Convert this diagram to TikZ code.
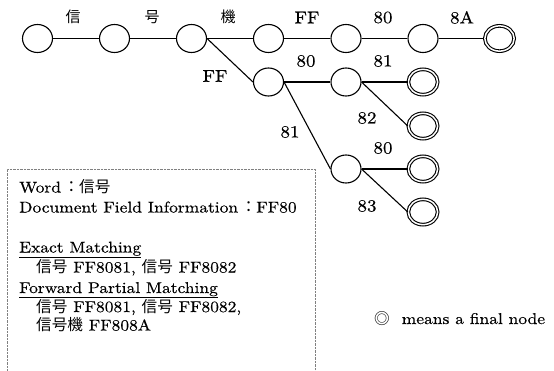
\documentclass[tikz,border=0pt]{standalone}
\usepackage{fontspec}
\setmainfont{lmroman10-regular.otf}[FakeStretch=1.12,FakeBold=0.4]
\newfontfamily\cjk{Noto Sans CJK JP}
\usetikzlibrary{shapes.geometric}
\tikzset{
  st/.style={ellipse,draw,line width=1.1pt,minimum width=30pt,minimum height=28pt,inner sep=0pt},
  fin/.style={ellipse,draw,line width=1.1pt,double,double distance=1.5pt,minimum width=29.3pt,minimum height=25.3pt,inner sep=0pt},
  edge/.style={line width=1.1pt},
  lab/.style={inner sep=0pt,font=\fontsize{17}{20}\selectfont},
  txt/.style={inner sep=0pt,anchor=base west,font=\fontsize{15.6}{18}\selectfont},
}
\begin{document}
\begin{tikzpicture}[x=1pt,y=-1pt]
\useasboundingbox (0,0) rectangle (554,370);
% states
\node[st] (n1) at (37.5,38.5) {};
\node[st] (n2) at (114.5,38.5) {};
\node[st] (n3) at (191.5,38.5) {};
\node[st] (n4) at (268.5,38.5) {};
\node[st] (n5) at (346,38.5) {};
\node[st] (n6) at (423,38.5) {};
\node[fin] (f1) at (499.5,38.5) {};
\node[st] (m1) at (268.5,82) {};
\node[st] (m2) at (346,82) {};
\node[fin] (f2) at (423,82) {};
\node[fin] (f3) at (423,126) {};
\node[st] (m3) at (346,169) {};
\node[fin] (f4) at (423,169) {};
\node[fin] (f5) at (423,212) {};
% edges
\draw[edge] (n1) -- (n2);
\draw[edge] (n2) -- (n3);
\draw[edge] (n3) -- (n4);
\draw[edge] (n4) -- (n5);
\draw[edge] (n5) -- (n6);
\draw[edge] (n6) -- (f1);
\draw[edge] (n3.east) -- (m1.west);
\draw[edge] (m1) -- (m2);
\draw[edge] (m2) -- (f2);
\draw[edge] (m2.east) -- (f3.west);
\draw[edge] (m1.east) -- (m3.west);
\draw[edge] (m3) -- (f4);
\draw[edge] (m3.east) -- (f5.west);
% labels
\node[lab] (l1) at (73,17) {\cjk\fontsize{15}{18}\selectfont 信};
\node[lab] (l2) at (152,17) {\cjk\fontsize{15}{18}\selectfont 号};
\node[lab] (l3) at (228,17) {\cjk\fontsize{15}{18}\selectfont 機};
\node[lab] (l4) at (307,17.5) {FF};
\node[lab] (l5) at (383,17.5) {80};
\node[lab] (l6) at (462,17.5) {8A};
\node[lab] (l7) at (215,76) {FF};
\node[lab] (l8) at (306,61) {80};
\node[lab] (l9) at (383,61) {81};
\node[lab] (l10) at (367,118) {82};
\node[lab] (l11) at (290,132) {81};
\node[lab] (l12) at (383,148) {80};
\node[lab] (l13) at (367,206) {83};
% box
\draw[line width=0.7pt,gray,dash pattern=on 0.7pt off 0.7pt] (7,372) -- (7,169) -- (315,169) -- (315,372);
\node[txt] (t1) at (19,192.5) {Word\,{\cjk ：信号}};
\node[txt] (t2) at (19,212.5) {Document Field Information\,{\cjk ：}FF80};
\node[txt] (t3) at (19,252.5) {\underline{Exact Matching}};
\node[txt] (t4) at (36,272.5) {{\cjk 信号} FF8081,\ {\cjk 信号} FF8082};
\node[txt] (t5) at (19,293) {\underline{Forward Partial Matching}};
\node[txt] (t6) at (36,312) {{\cjk 信号} FF8081,\ {\cjk 信号} FF8082,};
\node[txt] (t7) at (36,330.5) {{\cjk 信号機} FF808A};
% legend
\node[txt] (lg) at (374,324) {{\cjk ◎}\hspace{12pt}means a final node};
\end{tikzpicture}
\end{document}
